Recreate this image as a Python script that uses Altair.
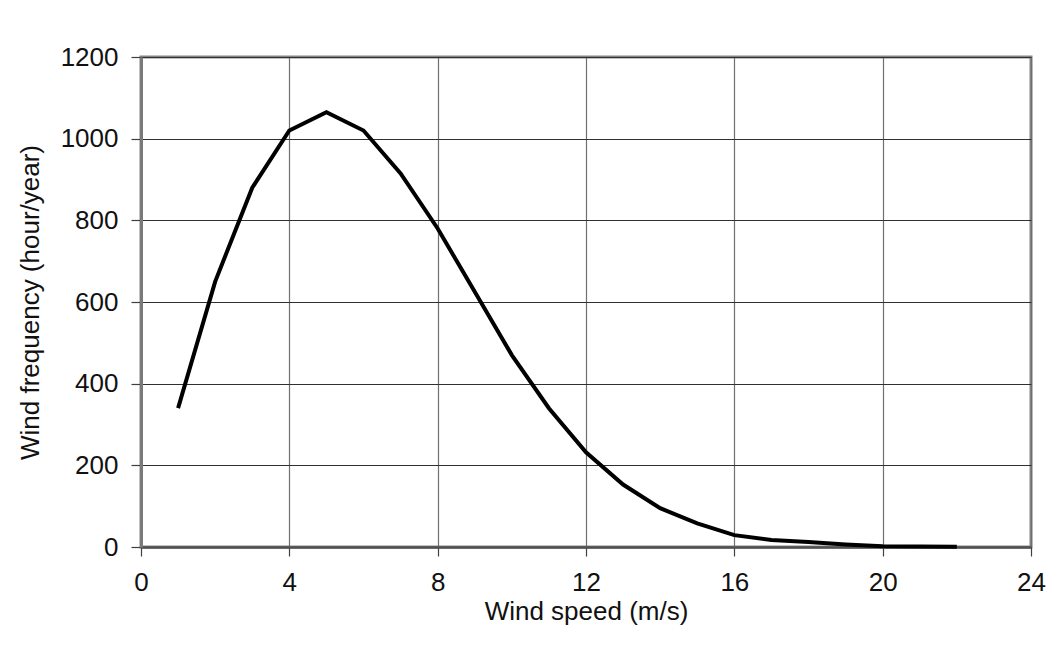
import altair as alt
import pandas as pd

wind_speed = [1, 2, 3, 4, 5, 6, 7, 8, 9, 10, 11, 12, 13, 14, 15, 16, 17, 18, 19, 20, 21, 22]
frequency = [340, 650, 880, 1020, 1065, 1020, 915, 780, 625, 470, 340, 232, 153, 95, 58, 29, 17, 12, 6, 2, 1, 0.5]
x_ticks = [0, 4, 8, 12, 16, 20, 24]
y_ticks = [0, 200, 400, 600, 800, 1000, 1200]

df = pd.DataFrame({"speed": wind_speed, "freq": frequency})

font = "Liberation Sans"

chart = alt.Chart(df).mark_line(color="black", strokeWidth=4).encode(
    x=alt.X("speed:Q",
            scale=alt.Scale(domain=[0, 24], nice=False),
            axis=alt.Axis(values=x_ticks, title="Wind speed (m/s)", format="d",
                          labelFlush=False,
                          domainColor="#505050", domainWidth=2.5,
                          gridColor="#707070", gridWidth=1.2,
                          tickColor="#404040", tickSize=9, tickWidth=1.2,
                          labelPadding=13, titlePadding=3)),
    y=alt.Y("freq:Q",
            scale=alt.Scale(domain=[0, 1200], nice=False),
            axis=alt.Axis(values=y_ticks, title="Wind frequency (hour/year)", format="d",
                          labelFlush=False,
                          domainColor="#7a7a7a", domainWidth=3,
                          gridColor="#303030", gridWidth=1,
                          tickColor="#404040", tickSize=10, tickWidth=1.2,
                          labelPadding=13, titlePadding=17)),
).properties(
    width=890,
    height=490,
    autosize=alt.AutoSizeParams(type="none"),
    padding={"left": 133, "top": 49, "right": 20, "bottom": 100},
    background="white",
).configure_view(
    stroke="#858585", strokeWidth=3
).configure_axis(
    labelFont=font, titleFont=font,
    labelFontSize=26, titleFontSize=26,
    labelColor="#111111", titleColor="#111111",
    titleFontWeight="normal",
)

chart.save("out.html", embed_options={"renderer": "svg", "actions": False})
